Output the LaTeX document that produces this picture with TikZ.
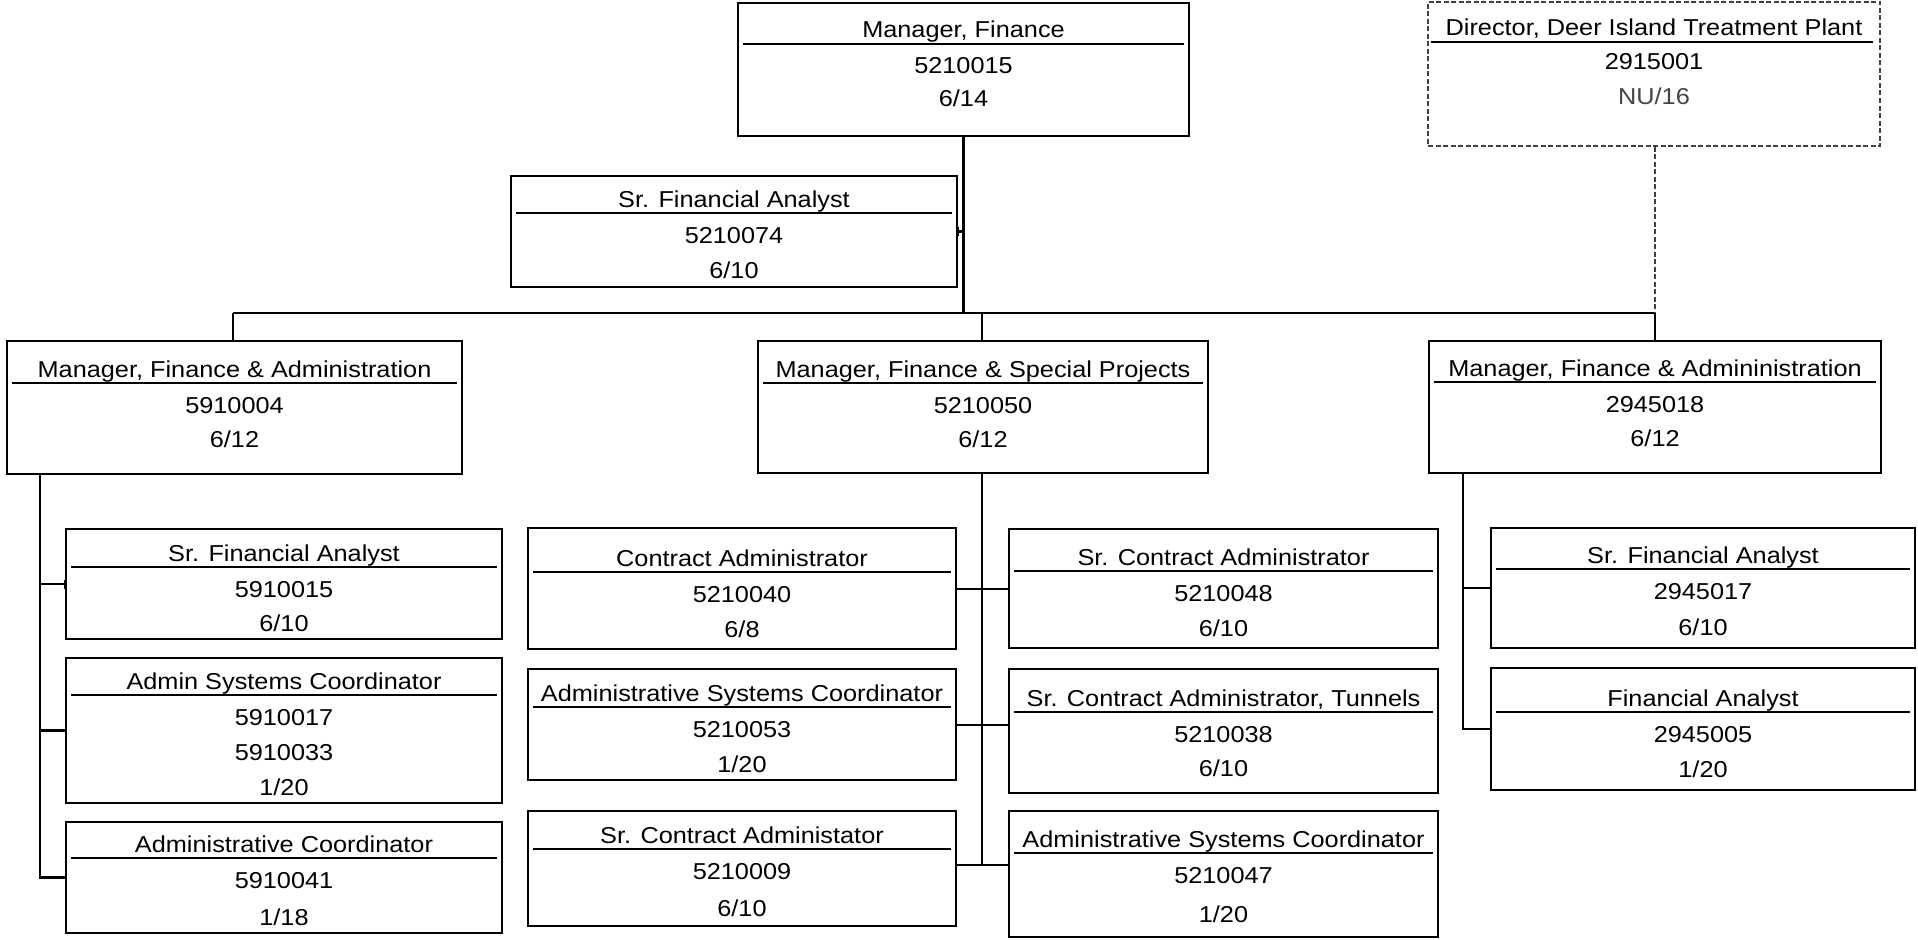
\documentclass[tikz,border=0pt]{standalone}
\usepackage{fontspec}
\setmainfont[FakeStretch=1.1]{Liberation Sans}
\usetikzlibrary{arrows.meta}
\definecolor{nugray}{HTML}{444444}
\tikzset{
  obox/.style={draw, line width=2.5pt, inner sep=0pt, rectangle},
  dbox/.style={draw=black!75, line width=1.8pt, dash pattern=on 5pt off 2.5pt, inner sep=0pt, rectangle},
  sepline/.style={line width=2pt},
  ttl/.style={anchor=base, inner sep=0pt, font=\fontsize{23}{28}\selectfont},
  ln/.style={anchor=base, inner sep=0pt, font=\fontsize{23}{28}\selectfont},
  conn/.style={line width=2.3pt},
  dconn/.style={line width=1.8pt, draw=black!75, dash pattern=on 5pt off 2.5pt},
  ticks/.style={{Bar[width=9pt,line width=1.2pt]}-{Bar[width=9pt,line width=1.2pt]}},
}
% #1 name #2 left #3 top #4 right #5 bottom #6 sep y #7 title #8 step #9 lines
\newcommand\orgbox[9]{%
  \node[obox, minimum width={#4-#2}, minimum height={#5-#3}] (#1) at ({(#2+#4)/2},{(#3+#5)/2}) {};
  \draw[sepline] ({#2+5},#6) -- ({#4-5},#6);
  \node[ttl] (#1-t) at ({(#2+#4)/2},{#6-6}) {#7};
  \foreach \txt [count=\i] in {#9} {\node[ln] (#1-\i) at ({(#2+#4)/2},{#6+30+(\i-1)*#8}) {\txt};}
}
\begin{document}
\begin{tikzpicture}[x=1pt,y=-1pt]
\useasboundingbox (0,0) rectangle (1918,939);

% top level
\orgbox{mf}{738}{3}{1189}{136}{44}{Manager, Finance}{33}{5210015,6/14}
\node[dbox, minimum width=452, minimum height=144] (dir) at (1654,74) {};
\draw[sepline] (1431,42) -- (1873,42);
\node[ttl] (dir-t) at (1654,36) {Director, Deer Island Treatment Plant};
\node[ln] (dir-1) at (1654,70) {2915001};
\node[ln, text=nugray] (dir-2) at (1654,105) {NU/16};

\orgbox{sfa}{511}{176}{957}{287}{213}{Sr. Financial Analyst}{35}{5210074,6/10}

% managers
\orgbox{lm}{7}{341}{462}{474}{383}{Manager, Finance \& Administration}{34}{5910004,6/12}
\orgbox{mm}{758}{341}{1208}{473}{383}{Manager, Finance \& Special Projects}{34}{5210050,6/12}
\orgbox{rm}{1429}{341}{1881}{473}{382}{Manager, Finance \& Admininistration}{34}{2945018,6/12}

% left children
\orgbox{la1}{66}{529}{502}{639}{567}{Sr. Financial Analyst}{34}{5910015,6/10}
\orgbox{la2}{66}{658}{502}{803}{695}{Admin Systems Coordinator}{35}{5910017,5910033,1/20}
\orgbox{la3}{66}{822}{502}{933}{858}{Administrative Coordinator}{37}{5910041,1/18}

% middle children
\orgbox{mc1}{528}{528}{956}{649}{572}{Contract Administrator}{35}{5210040,6/8}
\orgbox{mc2}{528}{669}{956}{780}{707}{Administrative Systems Coordinator}{35}{5210053,1/20}
\orgbox{mc3}{528}{811}{956}{926}{849}{Sr. Contract Administator}{37}{5210009,6/10}
\orgbox{mr1}{1009}{529}{1438}{648}{571}{Sr. Contract Administrator}{35}{5210048,6/10}
\orgbox{mr2}{1009}{669}{1438}{793}{712}{Sr. Contract Administrator, Tunnels}{34}{5210038,6/10}
\orgbox{mr3}{1009}{811}{1438}{937}{853}{Administrative Systems Coordinator}{39}{5210047,1/20}

% right children
\orgbox{rf1}{1491}{528}{1915}{648}{569}{Sr. Financial Analyst}{36}{2945017,6/10}
\orgbox{rf2}{1491}{668}{1915}{790}{712}{Financial Analyst}{35}{2945005,1/20}

% helper coordinates
\coordinate (busL) at (233,313);
\coordinate (busR) at (1655,313);
\coordinate (lv) at (40,474);
\coordinate (mv) at (982,473);
\coordinate (rv) at (1463,473);
\coordinate (r1) at (0,589);
\coordinate (r2) at (0,725);
\coordinate (r3) at (0,865);

% connectors
\draw[conn] (mf.south) -- (mf.south |- busL);
\draw[conn, ticks] (sfa.east) -- (sfa.east -| mf.south);
\draw[conn] (busL) -- (busR);
\draw[conn] (busL) -- (busL |- lm.north);
\draw[conn] (mv |- busL) -- (mv |- mm.north);
\draw[dconn] (busR |- dir.south) -- (busR);
\draw[conn] (busR) -- (busR |- rm.north);

\draw[conn] (lv) |- (la3.west);
\draw[conn, ticks] (lv |- la1.west) -- (la1.west);
\draw[conn] (lv |- la2.west) -- (la2.west);

\draw[conn] (mv) -- (mv |- r3);
\draw[conn] (mc1.east |- r1) -- (mr1.west |- r1);
\draw[conn] (mc2.east |- r2) -- (mr2.west |- r2);
\draw[conn] (mc3.east |- r3) -- (mr3.west |- r3);

\draw[conn] (rv) |- (rf2.west);
\draw[conn, {Bar[width=9pt,line width=1.2pt]}-] (rv |- rf1.west) -- (rf1.west);
\end{tikzpicture}
\end{document}
